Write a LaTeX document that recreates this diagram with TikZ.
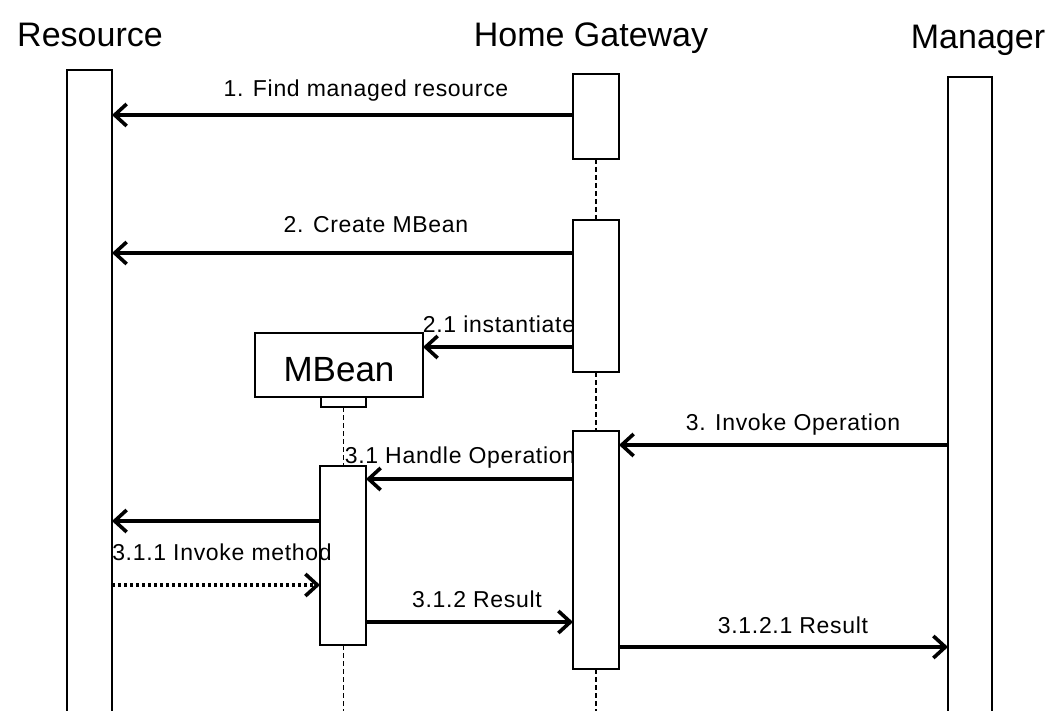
\documentclass[tikz,border=0pt]{standalone}
\usepackage{fontspec}
\setmainfont{Liberation Sans}
\newfontfamily\lblfont[LetterSpace=3]{Liberation Sans}
\usetikzlibrary{arrows.meta}
\begin{document}
\begin{tikzpicture}[x=1pt,y=-1pt,
  box/.style={draw, line width=2.6pt, fill=white, inner sep=0pt, outer sep=0pt, anchor=north west},
  msg/.style={line width=4pt, -{Straight Barb[length=12pt,width=22pt,line width=3.6pt]}},
  ret/.style={msg, dash pattern=on 3pt off 3pt},
  life/.style={line width=1.2pt, dash pattern=on 5pt off 3pt},
  title/.style={font=\fontsize{34}{36}\selectfont, inner sep=0pt, anchor=base},
  lbl/.style={font=\lblfont\fontsize{23}{25}\selectfont, inner sep=0pt, anchor=base}]
\useasboundingbox (0,0) rectangle (1049,711);
\clip (0,0) rectangle (1049,711);
% titles
\node[title] (tres) at (90,47) {Resource};
\node[title] (thg) at (591,47) {Home Gateway};
\node[title] (tmgr) at (978,49) {Manager};
% bottom coordinates for lifelines
\coordinate (hgbot) at (596,715);
\coordinate (mbbot) at (343.5,715);
% dashed lifelines (drawn first)
\draw[life] (596,159) -- (596,220);
\draw[life] (596,372) -- (596,431);
\draw[life] (596,669) -- (hgbot);
\draw[life] (343.5,407) -- (343.5,466);
\draw[life] (343.5,645) -- (mbbot);
% boxes
\node[box, minimum width=45pt, minimum height=680pt] (res) at (67,70) {};
\node[box, minimum width=44pt, minimum height=680pt] (mgr) at (948,77) {};
\node[box, minimum width=46pt, minimum height=85pt] (hg1) at (573,74) {};
\node[box, minimum width=46pt, minimum height=152pt] (hg2) at (573,220) {};
\node[box, minimum width=46pt, minimum height=238pt] (hg3) at (573,431) {};
\node[box, minimum width=168pt, minimum height=64pt] (mbean) at (255,333) {};
\node[font=\fontsize{35}{38}\selectfont, inner sep=0pt, anchor=base] (mbtxt) at (339,381) {MBean};
\node[box, minimum width=45pt, minimum height=10pt] (port) at (321,397) {};
\node[box, minimum width=46pt, minimum height=179pt] (mb1) at (320,466) {};
% messages
\draw[msg] (hg1.west|-0,115) -- (res.east|-0,115);
\node[lbl] (l1) at (366,97) {1. Find managed resource};
\draw[msg] (hg2.west|-0,253) -- (res.east|-0,253);
\node[lbl] (l2) at (376,233) {2. Create MBean};
\draw[msg] (hg2.west|-0,347) -- (mbean.east|-0,347);
\node[lbl] (l21) at (499,332) {2.1 instantiate};
\draw[msg] (mgr.west|-0,445) -- (hg3.east|-0,445);
\node[lbl] (l3) at (793,430) {3. Invoke Operation};
\draw[msg] (hg3.west|-0,479) -- (mb1.east|-0,479);
\node[lbl] (l31) at (460,463) {3.1 Handle Operation};
\draw[msg] (mb1.west|-0,521) -- (res.east|-0,521);
\draw[ret] (res.east|-0,585) -- (mb1.west|-0,585);
\node[lbl] (l311) at (222,560) {3.1.1 Invoke method};
\draw[msg] (mb1.east|-0,622) -- (hg3.west|-0,622);
\node[lbl] (l312) at (477,607) {3.1.2 Result};
\draw[msg] (hg3.east|-0,647) -- (mgr.west|-0,647);
\node[lbl] (l3121) at (793,633) {3.1.2.1 Result};
\end{tikzpicture}
\end{document}
